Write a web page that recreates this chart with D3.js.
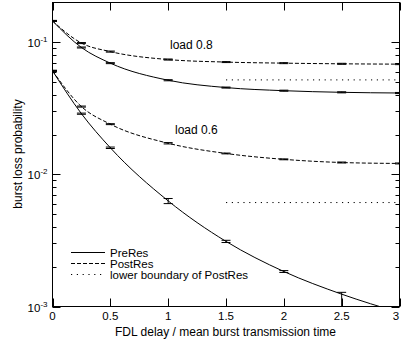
<!DOCTYPE html>
<html>
<head>
<meta charset="utf-8">
<script src="https://cdn.jsdelivr.net/npm/d3@7"></script>
<style>
  html, body { margin: 0; padding: 0; background: #fff; }
  svg { display: block; }
  text { font-family: "Liberation Sans", Arial, Helvetica, sans-serif; fill: #000; }
</style>
</head>
<body>
<svg id="chart" width="401" height="342"></svg>
<script>
// FDL delay (in units of mean burst transmission time)
const delays = [0, 0.25, 0.5, 1, 1.5, 2, 2.5, 3];

// load 0.8
const pre08     = [0.145, 0.0913, 0.0695, 0.0516, 0.0454, 0.0430, 0.0418, 0.0413];
const pre08Lo   = [0.1437, 0.0905, 0.0689, 0.0511, 0.0450, 0.0426, 0.0414, 0.0409];
const pre08Hi   = [0.1463, 0.0921, 0.0701, 0.0521, 0.0458, 0.0434, 0.0422, 0.0417];
const post08    = [0.145, 0.0986, 0.0850, 0.0740, 0.0708, 0.0695, 0.0687, 0.0683];
const post08Lo  = [0.1437, 0.0977, 0.0842, 0.0733, 0.0702, 0.0689, 0.0681, 0.0677];
const post08Hi  = [0.1463, 0.0995, 0.0858, 0.0747, 0.0714, 0.0701, 0.0693, 0.0689];

// load 0.6
const pre06     = [0.0608, 0.0288, 0.0159, 0.0063, 0.00311, 0.00184, 0.00124, 0.00090];
const pre06Lo   = [0.0603, 0.0285, 0.0157, 0.00601, 0.00305, 0.00181, 0.00097, 0.00089];
const pre06Hi   = [0.0613, 0.0291, 0.0161, 0.00657, 0.00317, 0.00187, 0.00128, 0.00091];
const post06    = [0.0608, 0.0326, 0.0240, 0.0172, 0.0144, 0.0130, 0.0123, 0.0121];
const post06Lo  = [0.0603, 0.0323, 0.0238, 0.0170, 0.0143, 0.0129, 0.0122, 0.0120];
const post06Hi  = [0.0613, 0.0329, 0.0242, 0.0174, 0.0145, 0.0131, 0.0124, 0.0122];

// lower boundary of PostRes
const boundX    = [1.5, 3];
const bound08   = 0.0519;
const bound06   = 0.00612;

const xTicks = [0, 0.5, 1, 1.5, 2, 2.5, 3];
const yMajor = [1e-3, 1e-2, 1e-1];
const yExp   = ["-3", "-2", "-1"];
const legendLabels = ["PreRes", "PostRes", "lower boundary of PostRes"];
const loadLabels = ["load 0.8", "load 0.6"];

const L = 52.5, R = 399.5, T = 2.5, B = 306.5;
const W = 401;
const svg = d3.select("#chart");
const x = d3.scaleLinear().domain([0, 3]).range([L, R]);
const y = d3.scaleLog().domain([1e-3, 0.2]).range([B, T]);

const DASH = "4,2", DOT = "1.2,4.6";

svg.append("defs").append("clipPath").attr("id", "plot")
  .append("rect").attr("x", L).attr("y", T).attr("width", R - L).attr("height", B - T);

const data = svg.append("g").attr("clip-path", "url(#plot)");
const line = d3.line().x(d => x(d[0])).y(d => y(d[1])).curve(d3.curveMonotoneX);

function series(vals, lo, hi, dash) {
  const pts = delays.map((d, i) => [d, vals[i]]);
  data.append("path").attr("d", line(pts))
    .attr("fill", "none").attr("stroke", "#000").attr("stroke-width", 1)
    .attr("stroke-dasharray", dash);
  const g = data.append("g").attr("stroke", "#000").attr("stroke-width", 1);
  delays.forEach((d, i) => {
    const cx = x(d), y0 = y(Math.max(lo[i], 1e-4)), y1 = y(hi[i]);
    g.append("line").attr("x1", cx).attr("x2", cx).attr("y1", y0).attr("y2", y1);
    g.append("line").attr("x1", cx - 4.5).attr("x2", cx + 4.5).attr("y1", y0).attr("y2", y0);
    g.append("line").attr("x1", cx - 4.5).attr("x2", cx + 4.5).attr("y1", y1).attr("y2", y1);
  });
}
series(pre08, pre08Lo, pre08Hi, null);
series(post08, post08Lo, post08Hi, DASH);
series(pre06, pre06Lo, pre06Hi, null);
series(post06, post06Lo, post06Hi, DASH);

[bound08, bound06].forEach(v => {
  data.append("line")
    .attr("x1", x(boundX[0])).attr("x2", x(boundX[1]))
    .attr("y1", y(v)).attr("y2", y(v))
    .attr("stroke", "#000").attr("stroke-width", 1).attr("stroke-dasharray", DOT);
});

// frame and ticks (mirrored on all sides, pointing inward)
const axes = svg.append("g").attr("stroke", "#000").attr("stroke-width", 1).attr("fill", "none");
axes.append("rect").attr("x", L).attr("y", T).attr("width", R - L).attr("height", B - T);
xTicks.forEach(t => {
  const px = Math.round(x(t)) + 0.5;
  axes.append("line").attr("x1", px).attr("x2", px).attr("y1", B).attr("y2", B - 8);
  axes.append("line").attr("x1", px).attr("x2", px).attr("y1", T).attr("y2", T + 8);
});
yMajor.forEach(v => {
  const py = Math.round(y(v)) + 0.5;
  axes.append("line").attr("x1", L).attr("x2", L + 8).attr("y1", py).attr("y2", py);
  axes.append("line").attr("x1", R).attr("x2", R - 8).attr("y1", py).attr("y2", py);
});
yMajor.forEach(v => {
  for (let k = 2; k <= 9; k++) {
    const val = v * k;
    if (val >= 0.2) continue;
    const py = Math.round(y(val)) + 0.5;
    axes.append("line").attr("x1", L).attr("x2", L + 4).attr("y1", py).attr("y2", py);
    axes.append("line").attr("x1", R).attr("x2", R - 4).attr("y1", py).attr("y2", py);
  }
});

// tick labels (the last one is kept inside the page edge)
svg.append("g").selectAll("text").data(xTicks).join("text")
  .attr("x", d => Math.min(x(d), W - 5)).attr("y", 320).attr("text-anchor", "middle")
  .attr("font-size", 11.5).text(d => d);

const yl = svg.append("g");
yMajor.forEach((v, i) => {
  const t = yl.append("text").attr("x", 47.5).attr("y", y(v) + 5).attr("text-anchor", "end")
    .attr("font-size", 11.5);
  t.append("tspan").text("10");
  t.append("tspan").attr("font-size", 8).attr("dy", -5).text(yExp[i]);
});

// axis titles
svg.append("text").attr("x", 225.5).attr("y", 335.5).attr("text-anchor", "middle")
  .attr("font-size", 12).text("FDL delay / mean burst transmission time");
svg.append("text").attr("transform", "translate(21.5,154) rotate(-90)")
  .attr("text-anchor", "middle").attr("font-size", 12).text("burst loss probability");

// curve group labels
svg.append("text").attr("x", 170).attr("y", 49).attr("font-size", 12).text(loadLabels[0]);
svg.append("text").attr("x", 175).attr("y", 134).attr("font-size", 12).text(loadLabels[1]);

// legend
const dashes = [null, DASH, DOT];
const lg = svg.append("g");
legendLabels.forEach((lab, i) => {
  const ly = 252.5 + i * 11;
  lg.append("line").attr("x1", 71).attr("x2", 105).attr("y1", ly).attr("y2", ly)
    .attr("stroke", "#000").attr("stroke-width", 1).attr("stroke-dasharray", dashes[i]);
  lg.append("text").attr("x", 110).attr("y", ly + 4).attr("font-size", 11.5).text(lab);
});
</script>
</body>
</html>
